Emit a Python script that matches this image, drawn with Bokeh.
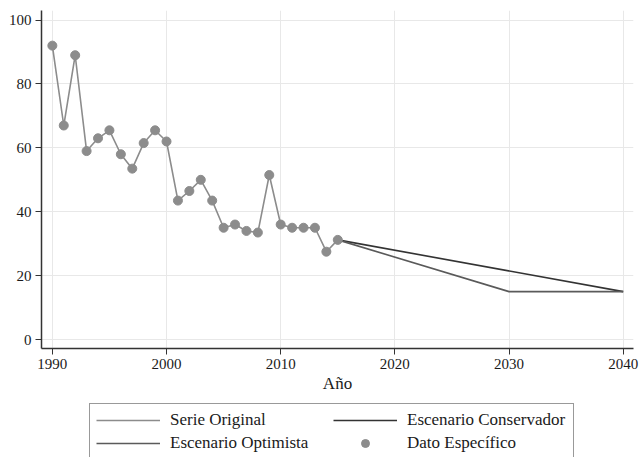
from bokeh.plotting import figure
from bokeh.layouts import column
from bokeh.models import Legend, LegendItem, FixedTicker, Range1d
from bokeh.embed import file_html
from bokeh.resources import INLINE

years = [1990, 1991, 1992, 1993, 1994, 1995, 1996, 1997, 1998, 1999, 2000,
         2001, 2002, 2003, 2004, 2005, 2006, 2007, 2008, 2009, 2010,
         2011, 2012, 2013, 2014, 2015]
values = [92, 67, 89, 59, 63, 65.5, 58, 53.5, 61.5, 65.5, 62,
          43.5, 46.5, 50, 43.5, 35, 36, 34, 33.5, 51.5, 36,
          35, 35, 35, 27.5, 31.2]
cons_years = [2015, 2040]
cons_values = [31.2, 15]
opt_years = [2015, 2030, 2040]
opt_values = [31.2, 15, 15]
x_ticks = [1990, 2000, 2010, 2020, 2030, 2040]
y_ticks = [0, 20, 40, 60, 80, 100]

FONT = "Liberation Serif"
W = 642
H_MAIN = 396
H_LEG = 61

p = figure(width=W, height=H_MAIN, output_backend="svg", toolbar_location=None,
           x_range=Range1d(1989.05, 2040.9), y_range=Range1d(-2.8, 103),
           min_border_left=41, min_border_right=W - 633, min_border_top=10,
           min_border_bottom=H_MAIN - 348)
p.outline_line_color = None

l_orig = p.line(years, values, line_color="#8c8c8c", line_width=1.6)
l_cons = p.line(cons_years, cons_values, line_color="#333333", line_width=1.6)
l_opt = p.line(opt_years, opt_values, line_color="#5a5a5a", line_width=1.6)
pts = p.scatter(years, values, size=9, fill_color="#8c8c8c", line_color="#8c8c8c")

for ax in (p.xaxis[0], p.yaxis[0]):
    ax.major_label_text_font = FONT
    ax.major_label_text_font_size = "15px"
    ax.major_label_text_color = "#1a1a1a"
    ax.axis_line_color = "#333333"
    ax.axis_line_width = 1.5
    ax.major_tick_line_color = "#333333"
    ax.major_tick_out = 6
    ax.major_tick_in = 0
    ax.minor_tick_line_color = None
    ax.axis_label_text_font = FONT

p.xaxis.ticker = FixedTicker(ticks=x_ticks)
p.yaxis.ticker = FixedTicker(ticks=y_ticks)
p.yaxis.major_label_orientation = "horizontal"
p.xaxis.axis_label = "Año"
p.xaxis.axis_label_text_font_size = "17px"
p.xaxis.axis_label_text_font_style = "normal"
p.xaxis.axis_label_text_color = "#1a1a1a"
p.xaxis.axis_label_standoff = 2
p.xaxis.major_label_standoff = 4
p.yaxis.major_label_standoff = 4

p.xgrid.grid_line_color = "#e8e8e8"
p.ygrid.grid_line_color = "#e8e8e8"

# legend-only figure below the chart (its frame is aligned with the chart's frame)
lf = figure(width=W, height=H_LEG, output_backend="svg", toolbar_location=None,
            x_range=Range1d(0, 1), y_range=Range1d(0, 1),
            min_border=0)
lf.axis.visible = False
lf.grid.visible = False
lf.outline_line_color = None
g_orig = lf.line([5, 6], [5, 6], line_color="#8c8c8c", line_width=1.6)
g_opt = lf.line([5, 6], [5, 6], line_color="#5a5a5a", line_width=1.6)
g_cons = lf.line([5, 6], [5, 6], line_color="#333333", line_width=1.6)
g_pts = lf.scatter([5], [5], size=7, fill_color="#8c8c8c", line_color="#8c8c8c")

legend = Legend(items=[
    LegendItem(label="Serie Original", renderers=[g_orig]),
    LegendItem(label="Escenario Optimista", renderers=[g_opt]),
    LegendItem(label="Escenario Conservador", renderers=[g_cons]),
    LegendItem(label="Dato Específico", renderers=[g_pts]),
], ncols=2, location=(48, -3))
legend.label_text_font = FONT
legend.label_text_font_size = "17px"
legend.label_text_color = "#1a1a1a"
legend.border_line_color = "#333333"
legend.border_line_width = 1.2
legend.glyph_width = 64
legend.glyph_height = 20
legend.label_standoff = 10
legend.label_width = 160
legend.label_height = 20
legend.spacing = 3
legend.padding = 6
legend.margin = 0
lf.add_layout(legend, "center")

open("out.html", "w").write(file_html(column(p, lf, spacing=0), INLINE))
